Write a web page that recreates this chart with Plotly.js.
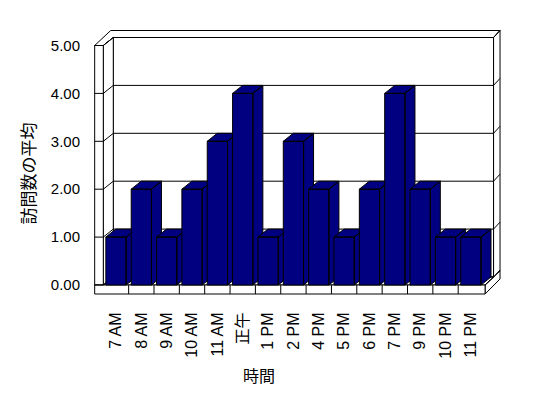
<!DOCTYPE html>
<html>
<head>
<meta charset="utf-8">
<script src="https://cdn.plot.ly/plotly-3.0.1.min.js"></script>
<style>html,body{margin:0;padding:0;background:#fff;}#chart{width:548px;height:398px;}</style>
</head>
<body>
<div id="chart"></div>
<script>
// ---- data ----
const categories = ['7 AM','8 AM','9 AM','10 AM','11 AM','正午','1 PM','2 PM','4 PM','5 PM','6 PM','7 PM','9 PM','10 PM','11 PM'];
const visits = [1, 2, 1, 2, 3, 4, 1, 3, 2, 1, 2, 4, 2, 1, 1];
const yTickVals = [0, 1, 2, 3, 4, 5];
const yTickText = ['0.00', '1.00', '2.00', '3.00', '4.00', '5.00'];
const xTitle = '時間';
const yTitle = '訪問数の平均';

// ---- 3D look (in axis units) ----
const N = categories.length;
const YMAX = 5;
const DX = 0.394, DY = 0.167;     // depth offset of back plane
const ODX = 0.631, ODY = 0.313;   // outer offset of wall thickness
const W0 = -0.34;                 // left wall outer x
const FLOOR = -0.188;             // floor slab bottom
const X1 = N + 0.06;              // floor front right end
const XR = N + 0.65;              // outer right edge
const BW = 0.8;                   // bar width
const NAVY = '#000080';

const traces = [];
visits.forEach((v, i) => {
  const x0 = i + 0.5 - BW / 2, x1 = i + 0.5 + BW / 2;
  const xs = [
    x1, x1, x1 + DX, x1 + DX, x1, null,              // side
    x0, x1, x1 + DX, x0 + DX, x0, null,              // top
    x0, x1, x1, x0, x0                                // front
  ];
  const ys = [
    0, v, v + DY, DY, 0, null,
    v, v, v + DY, v + DY, v, null,
    0, 0, v, v, 0
  ];
  traces.push({
    type: 'scatter', mode: 'lines', x: xs, y: ys,
    fill: 'toself', fillcolor: NAVY,
    line: {color: '#000', width: 1},
    hoverinfo: 'skip', showlegend: false
  });
});

const ln = {color: '#000', width: 1};
const P = pts => 'M' + pts.map(p => p[0] + ',' + p[1]).join(' L') + ' Z';
const shapes = [];
// top of walls
shapes.push({type: 'path', xref: 'x', yref: 'y', layer: 'below', fillcolor: '#fff', line: ln,
  path: P([[W0, YMAX], [0, YMAX], [DX, YMAX + DY], [N + DX, YMAX + DY], [XR, YMAX + ODY], [W0 + ODX, YMAX + ODY]])});
// right side of back wall and floor
shapes.push({type: 'path', xref: 'x', yref: 'y', layer: 'below', fillcolor: '#fff', line: ln,
  path: P([[N + DX, YMAX + DY], [XR, YMAX + ODY], [XR, FLOOR + ODY], [X1, FLOOR], [X1, 0], [N + DX, DY]])});
// back wall inner face
shapes.push({type: 'path', xref: 'x', yref: 'y', layer: 'below', fillcolor: '#fff', line: ln,
  path: P([[DX, DY], [N + DX, DY], [N + DX, YMAX + DY], [DX, YMAX + DY]])});
// left wall inner face
shapes.push({type: 'path', xref: 'x', yref: 'y', layer: 'below', fillcolor: '#fff', line: ln,
  path: P([[0, 0], [DX, DY], [DX, YMAX + DY], [0, YMAX]])});
// floor top
shapes.push({type: 'path', xref: 'x', yref: 'y', layer: 'below', fillcolor: '#fff', line: ln,
  path: P([[0, 0], [X1, 0], [N + DX, DY], [DX, DY]])});
// left wall front
shapes.push({type: 'path', xref: 'x', yref: 'y', layer: 'below', fillcolor: '#fff', line: ln,
  path: P([[W0, 0], [0, 0], [0, YMAX], [W0, YMAX]])});
// floor front
shapes.push({type: 'path', xref: 'x', yref: 'y', layer: 'below', fillcolor: '#fff', line: ln,
  path: P([[W0, FLOOR], [X1, FLOOR], [X1, 0], [W0, 0]])});
// right floor inner line
shapes.push({type: 'path', xref: 'x', yref: 'y', layer: 'below', line: ln,
  path: 'M' + X1 + ',0 L' + (XR) + ',' + (ODY - 0.02)});
// gridlines
yTickVals.forEach(v => {
  shapes.push({type: 'path', xref: 'x', yref: 'y', layer: 'below', line: ln,
    path: 'M' + W0 + ',' + v + ' L0,' + v + ' L' + DX + ',' + (v + DY) + ' L' + (N + DX) + ',' + (v + DY)});
  shapes.push({type: 'path', xref: 'x', yref: 'y', layer: 'below', line: ln,
    path: 'M' + (N + DX) + ',' + (v + DY) + ' L' + XR + ',' + (v + ODY)});
});
// category ticks on floor front
for (let k = 1; k < N; k++) {
  shapes.push({type: 'line', xref: 'x', yref: 'y', layer: 'below', line: ln, x0: k, x1: k, y0: 0, y1: FLOOR});
}

const F = 'Liberation Sans, Arial, Noto Sans CJK JP, sans-serif';
const layout = {
  width: 548, height: 398,
  margin: {l: 88, r: 43, t: 28, b: 100},
  paper_bgcolor: '#fff', plot_bgcolor: 'rgba(0,0,0,0)',
  showlegend: false,
  xaxis: {
    range: [-0.6036, 15.846], showgrid: false, zeroline: false, showline: false,
    tickmode: 'array', tickvals: categories.map((c, i) => i + 0.5), ticktext: categories,
    tickangle: -90, ticks: 'outside', ticklen: 7, tickcolor: 'rgba(0,0,0,0)',
    tickfont: {family: F, size: 16, color: '#000'}, fixedrange: true
  },
  yaxis: {
    range: [-0.2714, 5.3653], showgrid: false, zeroline: false, showline: false,
    tickmode: 'array', tickvals: yTickVals, ticktext: yTickText,
    ticks: 'outside', ticklen: 4, tickcolor: 'rgba(0,0,0,0)',
    tickfont: {family: F, size: 15, color: '#000'}, fixedrange: true
  },
  shapes: shapes,
  annotations: [
    {text: xTitle, xref: 'paper', yref: 'paper', x: 0.4096, y: -0.285, showarrow: false,
     xanchor: 'center', yanchor: 'middle', font: {family: 'Noto Sans CJK JP', size: 16, color: '#000'}},
    {text: yTitle, xref: 'paper', yref: 'paper', x: -0.1439, y: 0.461, showarrow: false, textangle: -90,
     xanchor: 'center', yanchor: 'middle', font: {family: 'Noto Sans CJK JP', size: 17, color: '#000'}}
  ]
};
Plotly.newPlot('chart', traces, layout, {staticPlot: true, displayModeBar: false});
</script>
</body>
</html>
